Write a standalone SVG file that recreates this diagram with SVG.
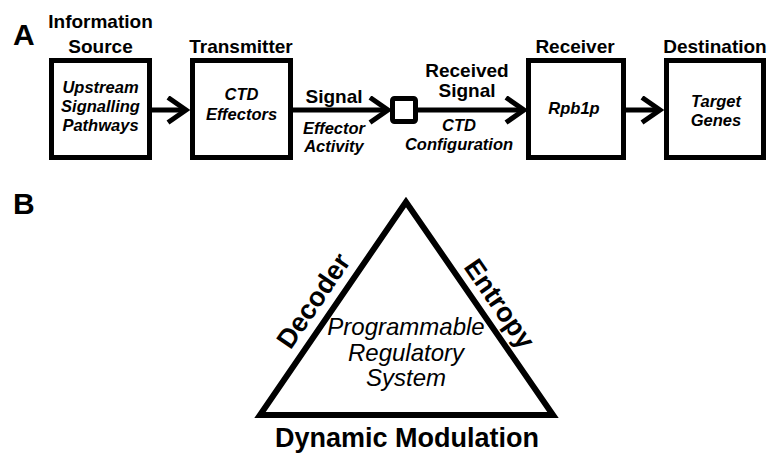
<svg xmlns="http://www.w3.org/2000/svg" width="768" height="453" viewBox="0 0 768 453">
<defs>
<style>
.box{fill:#fff;stroke:#000;stroke-width:5}
.conn{fill:none;stroke:#000;stroke-width:5}
.lbl{font-family:"Liberation Sans",Arial,sans-serif;font-weight:bold;font-size:19px;fill:#000;text-anchor:middle}
.it{font-family:"Liberation Sans",Arial,sans-serif;font-weight:bold;font-style:italic;font-size:16.5px;fill:#000;text-anchor:middle}
.panel{font-family:"Liberation Sans",Arial,sans-serif;font-weight:bold;font-size:30px;fill:#000}
.side{font-family:"Liberation Sans",Arial,sans-serif;font-weight:bold;font-size:26px;fill:#000;text-anchor:middle}
.mid{font-family:"Liberation Sans",Arial,sans-serif;font-style:italic;font-size:24px;fill:#000;text-anchor:middle}
</style>
<marker id="chev" viewBox="0 0 24 30" refX="20" refY="14" markerWidth="24" markerHeight="30" markerUnits="userSpaceOnUse" orient="auto">
<path d="M2,1.5 L20,14 L2,26.5" fill="none" stroke="#000" stroke-width="5"/>
</marker>
</defs>
<rect width="768" height="453" fill="#fff"/>
<text class="panel" x="13" y="45">A</text>
<text class="panel" x="13" y="214">B</text>

<g id="source">
<text class="lbl" x="100.5" y="28">Information</text>
<text class="lbl" x="100.5" y="53">Source</text>
<rect class="box" x="51.5" y="60.5" width="98" height="97"/>
<text class="it" x="100.5" y="93">Upstream</text>
<text class="it" x="100.5" y="112">Signalling</text>
<text class="it" x="100.5" y="131">Pathways</text>
</g>
<g id="transmitter">
<text class="lbl" x="241" y="53">Transmitter</text>
<rect class="box" x="192.5" y="60.5" width="98" height="97"/>
<text class="it" x="241.5" y="100">CTD</text>
<text class="it" x="241.5" y="120">Effectors</text>
</g>
<g id="channel">
<rect class="box" x="392.5" y="98.5" width="23" height="23" rx="2"/>
</g>
<g id="receiver">
<text class="lbl" x="575" y="53">Receiver</text>
<rect class="box" x="528.5" y="60.5" width="95" height="97"/>
<text class="it" x="574" y="114">Rpb1p</text>
</g>
<g id="destination">
<text class="lbl" x="715" y="53">Destination</text>
<rect class="box" x="666.5" y="60.5" width="97" height="97"/>
<text class="it" x="716" y="107">Target</text>
<text class="it" x="716" y="126">Genes</text>
</g>

<g id="connectors">
<line class="conn" x1="152" y1="110" x2="186" y2="110" marker-end="url(#chev)"/>
<line class="conn" x1="293" y1="110" x2="388" y2="110" marker-end="url(#chev)"/>
<line class="conn" x1="418" y1="110" x2="524" y2="110" marker-end="url(#chev)"/>
<line class="conn" x1="626" y1="110" x2="660" y2="110" marker-end="url(#chev)"/>
<text class="lbl" x="334" y="103">Signal</text>
<text class="it" x="334" y="134">Effector</text>
<text class="it" x="334" y="152">Activity</text>
<text class="lbl" x="467" y="77">Received</text>
<text class="lbl" x="467" y="97">Signal</text>
<text class="it" x="459" y="131">CTD</text>
<text class="it" x="459" y="150">Configuration</text>
</g>

<g id="triangle">
<polygon points="406,202 260,415 553,415" fill="#fff" stroke="#000" stroke-width="6" stroke-linejoin="miter" stroke-miterlimit="10"/>
<text class="side" transform="translate(321,306) rotate(-55.6)" style="font-size:27px">Decoder</text>
<text class="side" transform="translate(492,309) rotate(55.4)" style="font-size:27px">Entropy</text>
<text class="mid" x="406" y="335">Programmable</text>
<text class="mid" x="406" y="361">Regulatory</text>
<text class="mid" x="406" y="386">System</text>
<text class="side" x="407" y="447" style="font-size:27px">Dynamic Modulation</text>
</g>
</svg>
